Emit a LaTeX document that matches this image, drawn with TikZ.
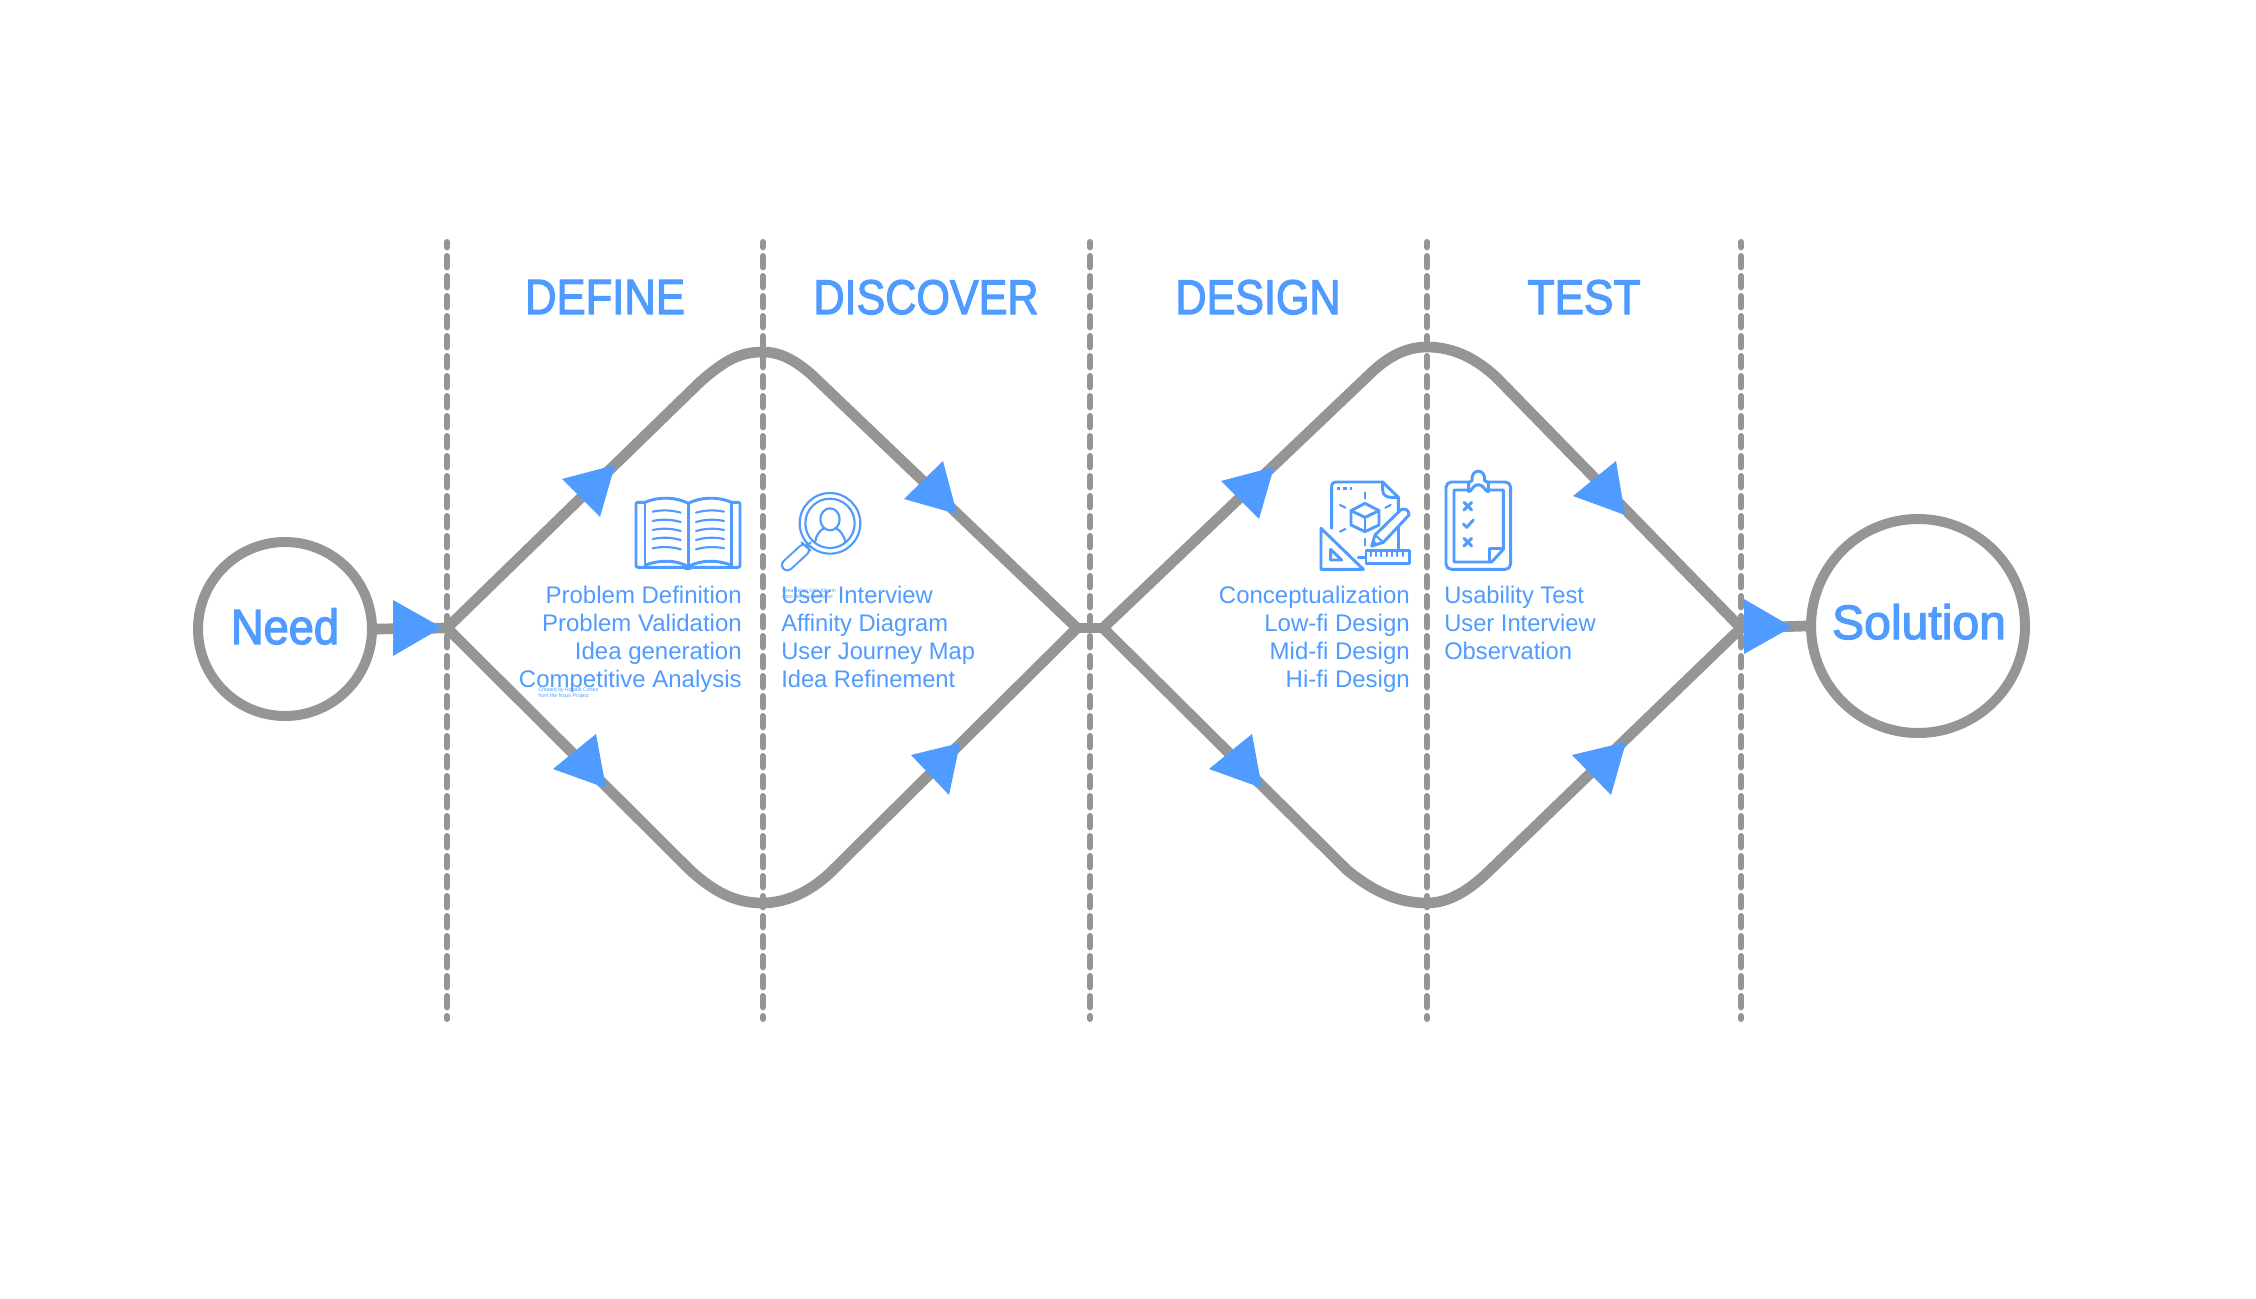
\documentclass[tikz,border=0pt]{standalone}
\usepackage{fontspec}
\usepackage{graphicx}
\setmainfont{Liberation Sans}
\newfontfamily\narrowfont[FakeStretch=0.988]{Liberation Sans}
\newfontfamily\medfont[FakeBold=2.6]{Liberation Sans}
\definecolor{bluec}{HTML}{4F9BFF}
\definecolor{grayc}{HTML}{959595}
\newcommand{\fitbox}[3]{\resizebox{#1}{#2}{\fontsize{36}{40}\medfont #3}}
\tikzset{
  guide/.style={draw=grayc,line width=4.5pt,line cap=round,dash pattern=on 8.5pt off 6.5pt,dash phase=4.5pt},
  flow/.style={draw=grayc,line width=8pt,line join=round},
  ring/.style={circle,draw=grayc,line width=7.5pt,inner sep=0pt},
  head/.style={fill=bluec,draw=none},
  title/.style={text=bluec,anchor=base,inner sep=0pt},
  rlist/.style={text=bluec,anchor=base east,inner sep=0pt,font=\fontsize{18}{21}\selectfont},
  llist/.style={text=bluec,anchor=base west,inner sep=0pt,font=\narrowfont\fontsize{18}{21}\selectfont},
  credit/.style={text=bluec,anchor=base west,inner sep=0pt,font=\fontsize{3.9}{4.5}\selectfont},
  ico/.style={draw=bluec,line width=2.2pt,line join=round,line cap=round},
  icothin/.style={draw=bluec,line width=1.6pt,line join=round,line cap=round},
}
\begin{document}
\begin{tikzpicture}[x=0.75pt,y=-0.75pt]
\useasboundingbox (0,0) rectangle (2256,1299);
\fill[white] (0,0) rectangle (2256,1299);
% named points
\coordinate (j1) at (447,628);
\coordinate (j2) at (1077,628);
\coordinate (j3) at (1103,628);
\coordinate (j4) at (1741,628);
\coordinate (g1a) at (447,242);  \coordinate (g1b) at (447,1019);
\coordinate (g2a) at (763,242);  \coordinate (g2b) at (763,1019);
\coordinate (g3a) at (1090,242); \coordinate (g3b) at (1090,1019);
\coordinate (g4a) at (1427,242); \coordinate (g4b) at (1427,1019);
\coordinate (g5a) at (1741,242); \coordinate (g5b) at (1741,1019);
% guides
\foreach \g in {g1,g2,g3,g4,g5} \draw[guide] (\g a) -- (\g b);
% circles
\node[ring,minimum size=130.5pt] (need) at (285,629) {};
\node[ring,minimum size=160.5pt] (solution) at (1918,626) {};
% flows
\draw[flow] (need.east) -- (j1);
\draw[flow] (j2) -- (j3);
\draw[flow] (j4) -- (solution.west);
\draw[flow] (j1) -- (700,382) .. controls (725,360) and (740,352) .. (763,352) .. controls (780,352) and (795,360) .. (812,375) -- (j2);
\draw[flow] (j1) -- (690,870) .. controls (715,893) and (737,903) .. (762,903) .. controls (790,903) and (815,888) .. (833,870) -- (j2);
\draw[flow] (j3) -- (1372,372) .. controls (1390,355) and (1408,347) .. (1427,347) .. controls (1455,347) and (1478,360) .. (1497,378) -- (j4);
\draw[flow] (j3) -- (1347,870) .. controls (1375,893) and (1400,903) .. (1427,903) .. controls (1450,903) and (1470,889) .. (1487,873) -- (j4);
% arrowheads
\fill[head] (393,600) -- (393,656) -- (442,627.5) -- cycle;
\fill[head] (562,479) -- (615,465) -- (600,517) -- cycle;
\fill[head] (943,461) -- (904,499) -- (957,514) -- cycle;
\fill[head] (596,734) -- (553,769) -- (606,788) -- cycle;
\fill[head] (911,755) -- (960,743) -- (949,795) -- cycle;
\fill[head] (1221,481) -- (1274,467) -- (1259,519) -- cycle;
\fill[head] (1616,461) -- (1573,496) -- (1625,515) -- cycle;
\fill[head] (1252,734) -- (1209,769) -- (1262,788) -- cycle;
\fill[head] (1572,755) -- (1626,742) -- (1611,795) -- cycle;
\fill[head] (1744,599) -- (1744,654) -- (1792,627) -- cycle;
% big text
\node[title] (tneed) at (285,644) {\fitbox{81pt}{26.8pt}{Need}};
\node[title] (tsol) at (1919,639) {\fitbox{130.5pt}{26.2pt}{Solution}};
\node[title] (tdefine) at (605,314) {\fitbox{120pt}{25.5pt}{DEFINE}};
\node[title] (tdiscover) at (926,314) {\fitbox{168.75pt}{25.5pt}{DISCOVER}};
\node[title] (tdesign) at (1258,314) {\fitbox{123.75pt}{25.5pt}{DESIGN}};
\node[title] (ttest) at (1584,314) {\fitbox{84.75pt}{25.5pt}{TEST}};
% lists
\node[rlist] (a1) at (742,603) {Problem Definition};
\node[rlist] (a2) at (742,631) {Problem Validation};
\node[rlist] (a3) at (742,659) {Idea generation};
\node[rlist] (a4) at (742,687) {Competitive Analysis};
\node[llist] (b1) at (781,603) {User Interview};
\node[llist] (b2) at (781,631) {Affinity Diagram};
\node[llist] (b3) at (781,659) {User Journey Map};
\node[llist] (b4) at (781,687) {Idea Refinement};
\node[rlist] (c1) at (1410,603) {Conceptualization};
\node[rlist] (c2) at (1410,631) {Low-fi Design};
\node[rlist] (c3) at (1410,659) {Mid-fi Design};
\node[rlist] (c4) at (1410,687) {Hi-fi Design};
\node[llist] (d1) at (1444,603) {Usability Test};
\node[llist] (d2) at (1444,631) {User Interview};
\node[llist] (d3) at (1444,659) {Observation};
% credits
\node[credit] (cr1) at (538,691) {Created by Ronald Cortez};
\node[credit] (cr2) at (538,697) {from the Noun Project};
\node[credit] (cr3) at (782,592) {Created by Vinh Khanh};
\node[credit] (cr4) at (782,598) {from the Noun Project};
% book and magnifier (zoom coordinates)
\begin{scope}[shift={(500,460)},x=0.25pt,y=-0.25pt]
  \draw[ico,rounded corners=1.5pt] (435,127) -- (408,127) -- (408,322) -- (720,322) -- (720,127) -- (695,127);
  \draw[ico] (435,127) -- (435,316);
  \draw[ico] (695,127) -- (695,316);
  \draw[ico] (435,127) .. controls (480,108) and (530,112) .. (565,130) .. controls (600,112) and (650,108) .. (695,127);
  \draw[ico] (435,316) .. controls (480,298) and (530,300) .. (565,320) .. controls (600,300) and (650,298) .. (695,316);
  \draw[ico] (565,130) -- (565,322);
  \fill[bluec] (563,323) ellipse (15 and 8);
  \foreach \y in {155,183,210,237,265} {
    \draw[icothin] (458,\y) .. controls (485,\y-6) and (515,\y-5) .. (542,\y+3);
    \draw[icothin] (588,\y+3) .. controls (615,\y-5) and (645,\y-6) .. (672,\y);
  }
  % magnifier
  \draw[icothin] (990,190) circle (91);
  \draw[icothin] (990,190) circle (74);
  \draw[icothin] (990,178) ellipse (29 and 33);
  \draw[icothin] (945,247) .. controls (948,225) and (960,210) .. (972,205);
  \draw[icothin] (1008,205) .. controls (1020,210) and (1032,225) .. (1036,247);
  \draw[bluec,line width=9.5pt,line cap=round] (862,315) -- (911,270);
  \draw[white,line width=6.5pt,line cap=round] (862,315) -- (911,270);
  \draw[icothin] (905,247) -- (932,272);
  \draw[icothin] (918,260) -- (932,247);
\end{scope}
% blueprint and clipboard (zoom coordinates)
\begin{scope}[shift={(1200,460)},x=0.25pt,y=-0.25pt]
  \draw[ico] (395,205) -- (395,80) .. controls (395,70) and (400,66) .. (410,66) -- (548,66) -- (595,112) -- (595,152);
  \draw[ico] (595,198) -- (595,270);
  \draw[ico] (548,66) -- (548,90) .. controls (548,105) and (560,112) .. (572,112) -- (595,112);
  \draw[ico,dash pattern=on 2.5pt off 2.5pt,line cap=butt] (410,86) -- (456,86);
  \draw[ico] (495,130) -- (537,152) -- (537,195) -- (495,215) -- (453,195) -- (453,152) -- cycle;
  \draw[ico] (453,152) -- (495,172) -- (537,152);
  \draw[ico] (495,172) -- (495,215);
  \draw[icothin] (495,97) -- (495,116);
  \draw[icothin] (420,135) -- (436,143);
  \draw[icothin] (572,135) -- (556,143);
  \draw[icothin] (420,215) -- (436,207);
  \draw[icothin] (495,237) -- (495,256);
  \draw[ico] (515,258) -- (525,225) -- (602,150) .. controls (612,142) and (628,150) .. (627,165) -- (550,247) -- cycle;
  \draw[icothin] (525,225) -- (550,247);
  \fill[bluec] (515,258) -- (520,240) -- (534,252) -- cycle;
  \draw[ico] (498,272) rectangle (628,310);
  \draw[ico] (475,292) -- (498,292);
  \foreach \x in {512,528,544,560,576,592,608} \draw[icothin] (\x,276) -- (\x,288);
  \draw[ico] (363,205) -- (363,328) -- (490,328) -- cycle;
  \draw[ico] (392,268) -- (392,300) -- (425,300) -- cycle;
  % clipboard
  \draw[ico,rounded corners=4pt] (738,66) rectangle (932,328);
  \draw[ico] (802,90) -- (762,90) -- (762,306) -- (875,306) -- (910,268) -- (910,90) -- (870,90);
  \draw[ico] (868,306) -- (868,265) -- (905,265);
  \draw[ico,fill=white] (806,95) -- (806,68) -- (816,62) .. controls (812,24) and (858,24) .. (854,62) -- (865,68) -- (865,95) .. controls (855,95) and (852,74) .. (835,74) .. controls (818,74) and (815,95) .. (806,95) -- cycle;
  \draw[ico] (792,127) -- (815,150);
  \draw[ico] (815,127) -- (792,150);
  \draw[ico] (790,192) -- (800,202) -- (820,180);
  \draw[ico] (792,235) -- (815,258);
  \draw[ico] (815,235) -- (792,258);
\end{scope}
\end{tikzpicture}
\end{document}
